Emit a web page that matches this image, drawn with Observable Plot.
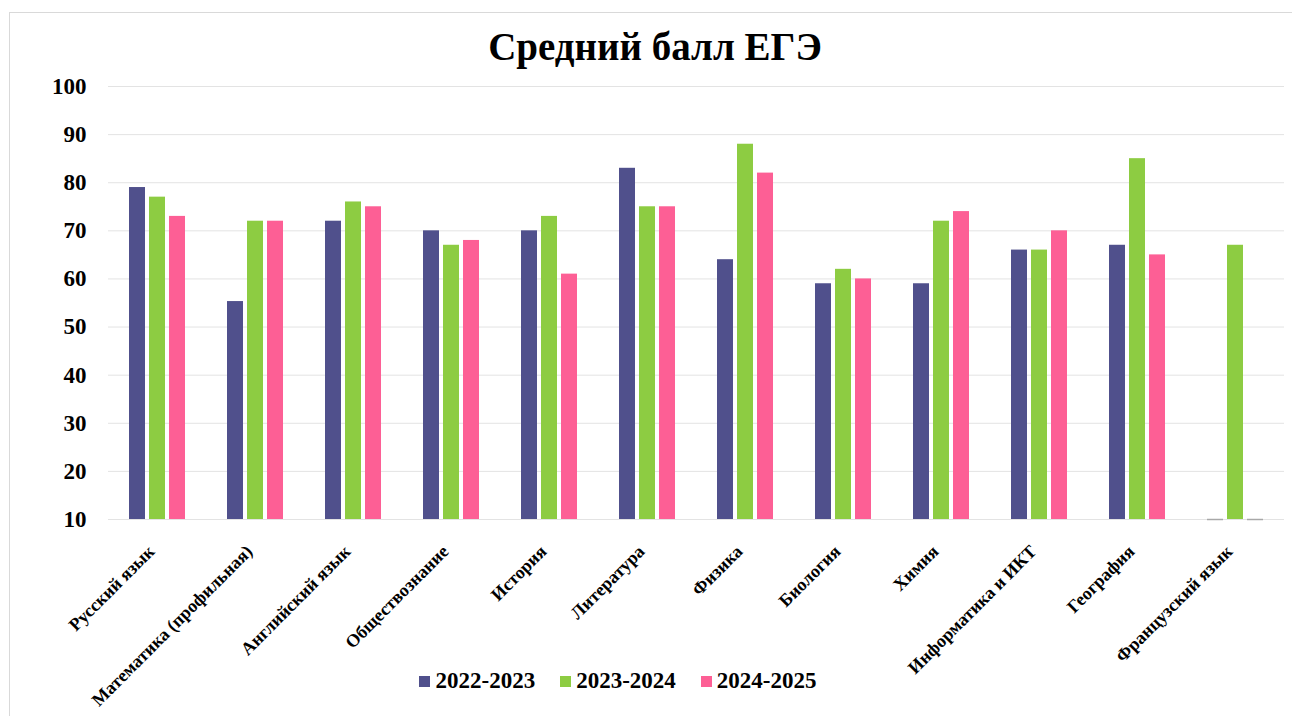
<!DOCTYPE html>
<html>
<head>
<meta charset="utf-8">
<script src="https://cdn.jsdelivr.net/npm/d3@7"></script>
<script src="https://cdn.jsdelivr.net/npm/@observablehq/plot@0.6"></script>
<style>
  html, body { margin: 0; padding: 0; background: #fff; }
  body { width: 1292px; height: 716px; position: relative; overflow: hidden;
         font-family: "Liberation Serif", "Times New Roman", serif; }
  #frame { position: absolute; left: 9px; top: 12px; width: 1300px; height: 720px;
           border: 1px solid #d9d9d9; box-sizing: border-box; pointer-events: none; }
  #title { position: absolute; left: 0; width: 1310px; top: 27px; text-align: center;
           font-size: 39px; line-height: 39px; font-weight: bold; color: #000; }
  #chart { position: absolute; left: 0; top: 70px; }
  #legend { position: absolute; left: 0; width: 1236px; top: 667px; display: flex;
            justify-content: center; gap: 25px; font-size: 23px; font-weight: bold; line-height: 28px; }
  #legend .item { display: flex; align-items: center; gap: 5px; }
  #legend .sw { width: 11px; height: 11px; display: inline-block; }
</style>
</head>
<body>
<div id="frame"></div>
<div id="title">Средний балл ЕГЭ</div>
<div id="chart"></div>
<div id="legend"></div>
<script>
const subjects = ["Русский язык", "Математика (профильная)", "Английский язык", "Обществознание",
  "История", "Литература", "Физика", "Биология", "Химия", "Информатика и ИКТ", "География", "Французский язык"];
const years = ["2022-2023", "2023-2024", "2024-2025"];
const s2022 = [79, 55.3, 72, 70, 70, 83, 64, 59, 59, 66, 67, 0];
const s2023 = [77, 72, 76, 67, 73, 75, 88, 62, 72, 66, 85, 67];
const s2024 = [73, 72, 75, 68, 61, 75, 82, 60, 74, 70, 65, 0];
const yTicks = [10, 20, 30, 40, 50, 60, 70, 80, 90, 100];
const colors = ["#50508c", "#8dcc42", "#fd5f95"];

const series = [s2022, s2023, s2024];
const data = subjects.flatMap((s, i) => years.map((y, j) => ({subject: s, year: y, value: series[j][i]})));

const chart = Plot.plot({
  width: 1292,
  height: 646,
  marginTop: 16,
  marginLeft: 105,
  marginRight: 6,
  marginBottom: 197,
  style: {fontFamily: "'Liberation Serif', 'Times New Roman', serif", fontWeight: "bold", color: "#000", background: "transparent", overflow: "visible"},
  fx: {domain: subjects, padding: 0, label: null, axis: null},
  x: {domain: years, paddingInner: 0.205, paddingOuter: 0.97, axis: null},
  y: {domain: [10, 100], clamp: true, label: null},
  color: {domain: years, range: colors},
  marks: [
    Plot.gridY(yTicks, {stroke: "#e3e3e3", strokeOpacity: 1, strokeWidth: 1}),
    Plot.barY(data.filter(d => d.value > 10), {fx: "subject", x: "year", y: "value", fill: "year"}),
    Plot.tickY(data.filter(d => d.value <= 10), {fx: "subject", x: "year", y: "value", stroke: "#a8a8a8", strokeWidth: 1.5}),
    Plot.axisY(yTicks, {tickSize: 0, tickPadding: 22, fontSize: 23, fontWeight: "bold", label: null}),
    Plot.axisFx({anchor: "bottom", tickRotate: -45, tickSize: 0, tickPadding: 8, dx: -6, dy: 21, fontSize: 18, fontWeight: "bold", label: null})
  ]
});
document.getElementById("chart").appendChild(chart);

const legend = document.getElementById("legend");
years.forEach((y, i) => {
  const item = document.createElement("div");
  item.className = "item";
  const sw = document.createElement("span");
  sw.className = "sw";
  sw.style.background = colors[i];
  const t = document.createElement("span");
  t.textContent = y;
  item.appendChild(sw);
  item.appendChild(t);
  legend.appendChild(item);
});
</script>
</body>
</html>
